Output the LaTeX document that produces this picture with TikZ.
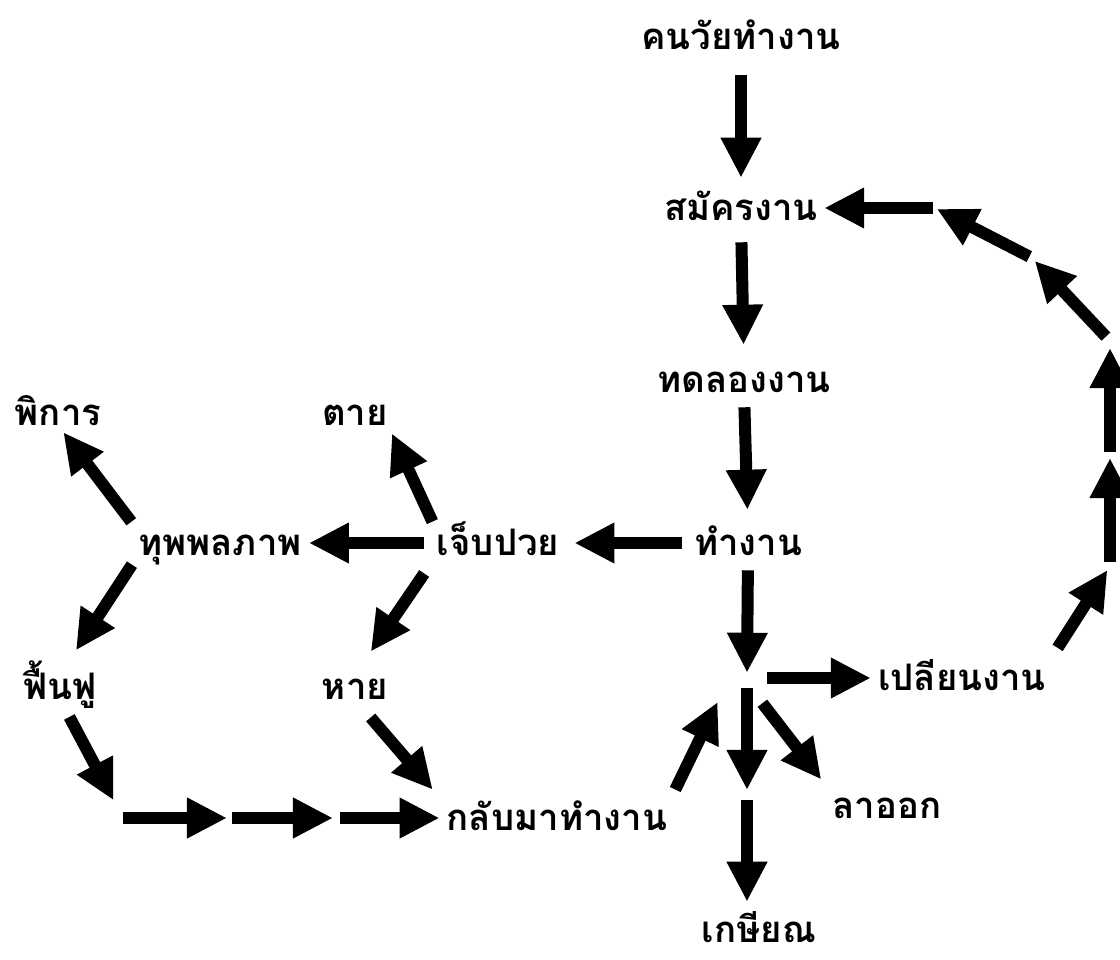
\documentclass[tikz,border=0pt]{standalone}
\usepackage{fontspec}
\newfontfamily\thaifont[Script=Thai]{Loma}
\usetikzlibrary{arrows.meta, calc, positioning}

\begin{document}
\begin{tikzpicture}[
  x=0.025cm, y=-0.025cm,
  % Estilos de nodos
  etiqueta/.style={
    font=\thaifont\bfseries\fontsize{26}{30}\selectfont,
    inner sep=0pt, text height=0.6cm, text depth=0pt
  },
  cruce/.style={
    inner sep=0pt, minimum width=1cm, minimum height=0.25cm
  },
  % Estilo de flechas
  flecha/.style={
    -{Triangle[width=0.95cm, length=1cm]}, line width=0.3cm, draw=black
  }
]
\useasboundingbox (0,0) rectangle (1120,960);

% --- Columna principal ---
\node[etiqueta] (kon)     at (741, 37)  {คนวัยทำงาน};
\node[etiqueta] (samak)   at (741, 208) {สมัครงาน};
\node[etiqueta] (thot)    at (744, 380) {ทดลองงาน};
\node[etiqueta] (tamngan) at (748, 543) {ทำงาน};
\node[cruce]    (hub)     at (747, 678) {};

% --- Rama izquierda ---
\node[etiqueta] (jep)    at (498, 543) {เจ็บปวย};
\node[etiqueta] (thup)   at (220, 543) {ทุพพลภาพ};
\node[etiqueta] (phikan) at (58, 413)  {พิการ};
\node[etiqueta] (tai)    at (355, 413) {ตาย};
\node[etiqueta] (fuenfu) at (60, 687)  {ฟื้นฟู};
\node[etiqueta] (hai)    at (355, 687) {หาย};
\node[etiqueta] (klap)   at (557, 818) {กลับมาทำงาน};

% --- Salidas ---
\node[etiqueta] (plian)  at (962, 678) {เปลียนงาน};
\node[etiqueta] (laok)   at (887, 806) {ลาออก};
\node[etiqueta] (kasian) at (759, 930) {เกษียณ};

% --- Puntos de paso ---
\coordinate (j1) at (123, 818);
\coordinate (j2) at (230, 818);
\coordinate (j3) at (337, 818);
\coordinate (c4) at (747, 795);
\coordinate (r1) at (1110, 566);
\coordinate (r2) at (1110, 455);
\coordinate (r3) at (1110, 341);
\coordinate (r4) at (1032, 258);
\coordinate (r5) at (935, 208);

% --- Flechas columna principal ---
\draw[flecha, shorten <=0.65cm, shorten >=0.45cm] (kon.south) -- (samak.north);
\draw[flecha, shorten <=0.55cm, shorten >=0.575cm] (samak.south) -- (thot.north);
\draw[flecha, shorten <=0.375cm, shorten >=0.525cm] (thot.south) -- (tamngan.north);
\draw[flecha, shorten <=0.375cm] (tamngan.south) -- (hub.north);

% --- Flechas rama izquierda ---
\draw[flecha, shorten <=0.3cm, shorten >=0.375cm] (tamngan.west) -- (jep.east);
\draw[flecha, shorten <=0.325cm, shorten >=0.175cm] (jep.west) -- (thup.east);
\draw[flecha, shorten <=0.25cm, shorten >=0.225cm] (jep.north west) -- (tai.south east);
\draw[flecha, shorten <=0.55cm, shorten >=0.7cm] (jep.south west) -- (hai.north);
\draw[flecha, shorten <=0.28cm, shorten >=0.22cm] (thup.north west) -- (phikan.south);
\draw[flecha, shorten <=0.28cm, shorten >=0.73cm] (thup.south west) -- (fuenfu.north);
\draw[flecha, shorten <=0.5cm, shorten >=0.5cm] (fuenfu.south) -- (j1);
\draw[flecha, shorten >=0.075cm] (j1) -- (j2);
\draw[flecha, shorten <=0.05cm, shorten >=0.1cm] (j2) -- (j3);
\draw[flecha, shorten <=0.075cm, shorten >=0.175cm] (j3) -- (klap.west);
\draw[flecha, shorten <=0.6cm, shorten >=0.53cm] (hai.south) -- (klap.north west);
\draw[flecha, shorten <=0.45cm, shorten >=0.52cm] (klap.north east) -- (hub.south west);

% --- Flechas de salida ---
\draw[flecha, shorten >=0.175cm] (hub.east) -- (plian.west);
\draw[flecha, shorten <=0.125cm, shorten >=0.125cm] (hub.south) -- (c4);
\draw[flecha, shorten <=0.125cm, shorten >=0.4cm] (c4) -- (c4 |- kasian.north);
\draw[flecha, shorten <=0.63cm, shorten >=0.45cm] (hub.south) -- (laok.north west);

% --- Vuelta a solicitar empleo ---
\draw[flecha, shorten <=0.53cm, shorten >=0.12cm] (plian.north east) -- (r1);
\draw[flecha, shorten <=0.1cm, shorten >=0.075cm] (r1) -- (r2);
\draw[flecha, shorten <=0.075cm, shorten >=0.175cm] (r2) -- (r3);
\draw[flecha, shorten <=0.15cm, shorten >=0.1cm] (r3) -- (r4);
\draw[flecha, shorten <=0.075cm, shorten >=0.05cm] (r4) -- (r5);
\draw[flecha, shorten <=0.05cm, shorten >=0.15cm] (r5) -- (samak.east);

\end{tikzpicture}
\end{document}
